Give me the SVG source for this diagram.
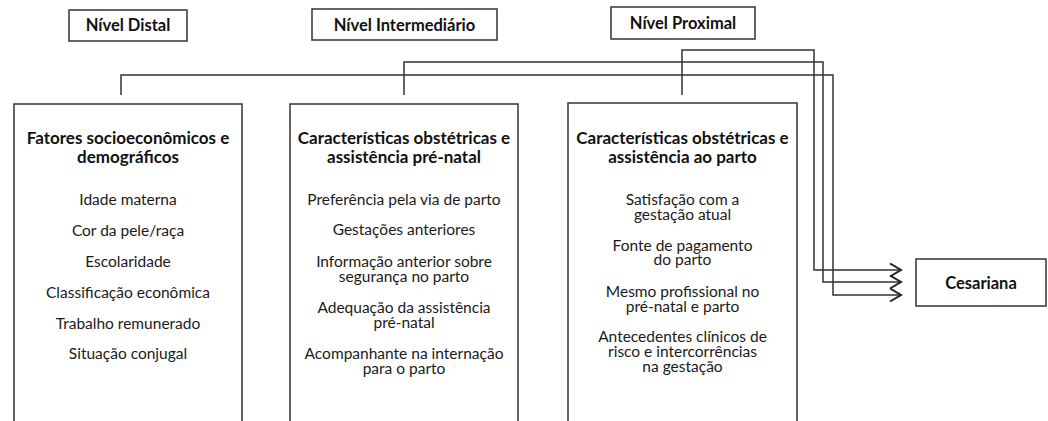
<svg xmlns="http://www.w3.org/2000/svg" width="1048" height="421" viewBox="0 0 1048 421">
<style>
.box{fill:#fff;stroke:#333;stroke-width:1.5}
.lbl{font-family:Lato,"Liberation Sans",sans-serif;font-weight:700;font-size:16.5px;fill:#111;text-anchor:middle}
.ttl{font-family:Lato,"Liberation Sans",sans-serif;font-weight:700;font-size:17px;fill:#111;text-anchor:middle}
.itm{font-family:Lato,"Liberation Sans",sans-serif;font-weight:400;font-size:15.5px;fill:#1a1a1a;text-anchor:middle}
.con{fill:none;stroke:#333;stroke-width:1.5}
</style>
<defs>
<marker id="chev" markerWidth="16" markerHeight="16" refX="12" refY="7" orient="auto" markerUnits="userSpaceOnUse">
<path d="M1,0.5 L12,7 L1,13.5" fill="none" stroke="#222" stroke-width="2"/>
</marker>
</defs>
<rect width="1048" height="421" fill="#fff"/>
<g id="level-distal"><rect class="box" x="69" y="10" width="118" height="31"/><text class="lbl" x="128" y="31">Nível Distal</text></g>
<g id="level-intermediario"><rect class="box" x="312" y="9" width="185" height="31"/><text class="lbl" x="404.5" y="30.5">Nível Intermediário</text></g>
<g id="level-proximal"><rect class="box" x="611" y="7" width="144" height="32"/><text class="lbl" x="683" y="29">Nível Proximal</text></g>
<g id="box-distal">
<rect class="box" x="14" y="104" width="228" height="330"/>
<text class="ttl" x="128" y="144">Fatores socioeconômicos e<tspan x="128" dy="19">demográficos</tspan></text>
<text class="itm" x="128" y="205">Idade materna</text>
<text class="itm" x="128" y="236">Cor da pele/raça</text>
<text class="itm" x="128" y="267">Escolaridade</text>
<text class="itm" x="128" y="298">Classificação econômica</text>
<text class="itm" x="128" y="329">Trabalho remunerado</text>
<text class="itm" x="128" y="359">Situação conjugal</text>
</g>
<g id="box-intermediario">
<rect class="box" x="290" y="104" width="228" height="330"/>
<text class="ttl" x="404" y="144">Características obstétricas e<tspan x="404" dy="19">assistência pré-natal</tspan></text>
<text class="itm" x="404" y="205">Preferência pela via de parto</text>
<text class="itm" x="404" y="235">Gestações anteriores</text>
<text class="itm" x="404" y="267">Informação anterior sobre<tspan x="404" dy="15">segurança no parto</tspan></text>
<text class="itm" x="404" y="313">Adequação da assistência<tspan x="404" dy="15">pré-natal</tspan></text>
<text class="itm" x="404" y="359">Acompanhante na internação<tspan x="404" dy="15">para o parto</tspan></text>
</g>
<g id="box-proximal">
<rect class="box" x="568" y="103" width="229" height="330"/>
<text class="ttl" x="682.5" y="144">Características obstétricas e<tspan x="682.5" dy="19">assistência ao parto</tspan></text>
<text class="itm" x="682.5" y="205">Satisfação com a<tspan x="682.5" dy="15">gestação atual</tspan></text>
<text class="itm" x="682.5" y="251">Fonte de pagamento<tspan x="682.5" dy="14">do parto</tspan></text>
<text class="itm" x="682.5" y="297">Mesmo profissional no<tspan x="682.5" dy="15">pré-natal e parto</tspan></text>
<text class="itm" x="682.5" y="342">Antecedentes clínicos de<tspan x="682.5" dy="15">risco e intercorrências</tspan><tspan x="682.5" dy="15">na gestação</tspan></text>
</g>
<g id="cesariana"><rect class="box" x="916" y="259" width="130" height="47"/><text class="lbl" x="981" y="288.5">Cesariana</text></g>
<g id="connectors">
<path class="con" d="M682,95 V50 H814 V270 H901" marker-end="url(#chev)"/>
<path class="con" d="M404,95 V62 H823 V282 H901" marker-end="url(#chev)"/>
<path class="con" d="M121,95 V75 H833 V295 H901" marker-end="url(#chev)"/>
</g>
</svg>
